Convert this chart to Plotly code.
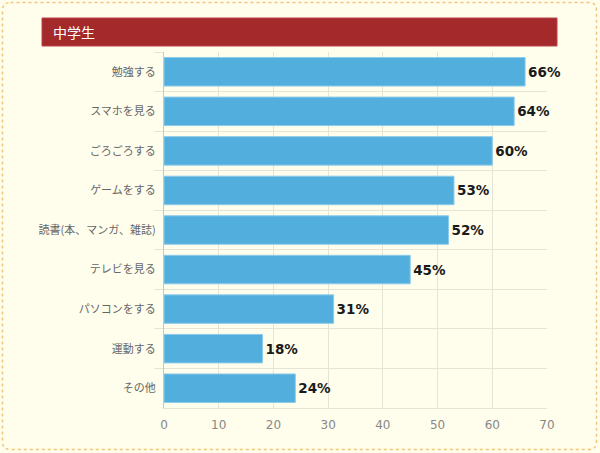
import plotly.graph_objects as go

categories = ["勉強する", "スマホを見る", "ごろごろする", "ゲームをする", "読書(本、マンガ、雑誌)",
              "テレビを見る", "パソコンをする", "運動する", "その他"]
values = [66, 64, 60, 53, 52, 45, 31, 18, 24]
labels = [f"{v}%" for v in values]
x_ticks = [0, 10, 20, 30, 40, 50, 60, 70]
title_text = "中学生"

W, H = 600, 453
L, R, T, B = 164, 53, 52, 45
pw, ph = W - L - R, H - T - B

def px(x):
    return (x - L) / pw

def py(y):
    return (H - B - y) / ph

fig = go.Figure()
fig.add_trace(go.Bar(
    y=categories, x=values, orientation="h",
    marker=dict(color="#52AFDD", line=dict(color="#8CCBEA", width=1)),
    text=labels, textposition="outside", cliponaxis=False,
    textfont=dict(family="DejaVu Sans", size=13.5, color="#1A1A1A", weight="bold"),
    hoverinfo="skip",
))

# outer dashed rounded border
x0, x1, y0, y1, r = px(2.5), px(596.5), py(2.5), py(449.5), 8
rx, ry = r / pw, r / ph
path = (f"M {x0+rx},{y0} L {x1-rx},{y0} Q {x1},{y0} {x1},{y0-ry} "
        f"L {x1},{y1+ry} Q {x1},{y1} {x1-rx},{y1} L {x0+rx},{y1} Q {x0},{y1} {x0},{y1+ry} "
        f"L {x0},{y0-ry} Q {x0},{y0} {x0+rx},{y0} Z")
fig.add_shape(type="path", path=path, xref="paper", yref="paper",
              line=dict(color="#F2C67A", width=1.5, dash="dot"), layer="below")

# title bar
fig.add_shape(type="rect", xref="paper", yref="paper",
              x0=px(42), x1=px(557), y0=py(46), y1=py(18),
              fillcolor="#A4292B", line=dict(color="#B84548", width=1))
fig.add_annotation(text=title_text, xref="paper", yref="paper",
                   x=px(51), y=py(32), xanchor="left", yanchor="middle", showarrow=False,
                   font=dict(family="Noto Sans CJK JP", size=14, color="white"))

fig.update_layout(
    width=W, height=H,
    margin=dict(l=L, r=R, t=T, b=B),
    paper_bgcolor="#FFFDEC", plot_bgcolor="#FFFDEC",
    bargap=0.28, showlegend=False,
    font=dict(family="Noto Sans CJK JP", color="#666666", size=11),
)
fig.update_xaxes(range=[0, 70], tickvals=x_ticks, showgrid=True, gridcolor="#E6E4D4",
                 gridwidth=1, zeroline=False, showline=True, linecolor="#E6E4D4",
                 ticks="outside", ticklen=6, tickcolor="rgba(0,0,0,0)",
                 tickfont=dict(family="DejaVu Sans", size=12, color="#888888"), fixedrange=True)
fig.update_yaxes(type="category", autorange="reversed", tickson="boundaries",
                 showgrid=True, gridcolor="#E6E4D4", ticks="outside", ticklen=9,
                 tickcolor="#E6E4D4", showline=True, linecolor="#C8C8C0",
                 ticklabelstandoff=5,
                 tickfont=dict(size=11, color="#666666"), fixedrange=True)

fig.write_html("out.html")
